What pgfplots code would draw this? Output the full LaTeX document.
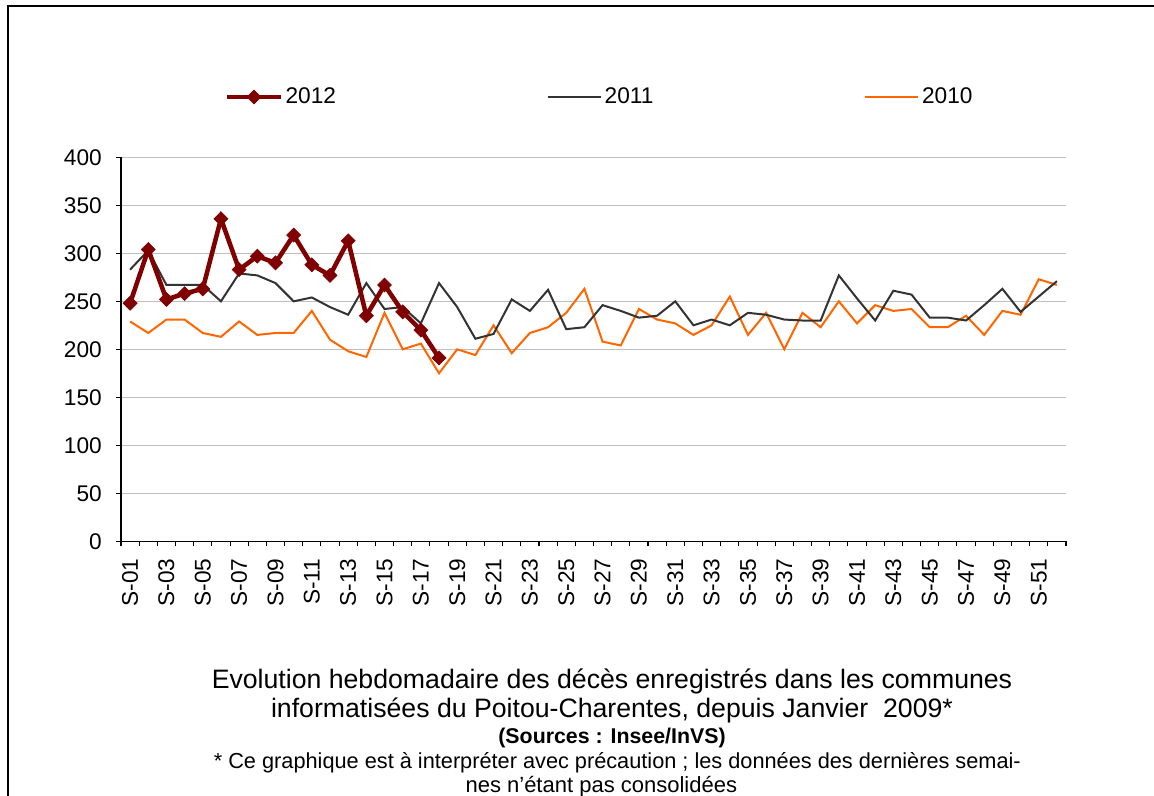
\documentclass[border=0pt]{standalone}
\usepackage{fontspec}
\setmainfont{Liberation Sans}
\usepackage{pgfplots}
\pgfplotsset{compat=1.18}
\usepackage{pgfplotstable}

\definecolor{c2012}{HTML}{800000}
\definecolor{c2011}{HTML}{333333}
\definecolor{c2010}{HTML}{FF6600}

\pgfplotstableread{
x y
1 248
2 304
3 252
4 258
5 263
6 336
7 283
8 297
9 290
10 319
11 288
12 277
13 313
14 235
15 267
16 239
17 220
18 191
}\dataA

\pgfplotstableread{
x y
1 283
2 303
3 267
4 267
5 267
6 250
7 279
8 277
9 269
10 250
11 254
12 244
13 236
14 269
15 242
16 244
17 227
18 269
19 244
20 211
21 216
22 252
23 240
24 262
25 221
26 223
27 246
28 240
29 233
30 235
31 250
32 225
33 231
34 225
35 238
36 236
37 231
38 230
39 230
40 277
41 253
42 230
43 261
44 257
45 233
46 233
47 230
48 246
49 263
50 239
51 255
52 271
}\dataB

\pgfplotstableread{
x y
1 229
2 217
3 231
4 231
5 217
6 213
7 229
8 215
9 217
10 217
11 240
12 210
13 198
14 192
15 238
16 200
17 206
18 175
19 200
20 194
21 225
22 196
23 217
24 223
25 238
26 263
27 208
28 204
29 242
30 231
31 227
32 215
33 225
34 255
35 215
36 238
37 200
38 238
39 223
40 250
41 227
42 246
43 240
44 242
45 223
46 223
47 235
48 215
49 240
50 236
51 273
52 267
}\dataC

\begin{document}
\begin{tikzpicture}
\useasboundingbox (0,0) rectangle (865.5pt,-597pt);
\draw[line width=1.5pt] (6pt,-600pt) -- (6pt,-4.3pt) -- (870pt,-4.3pt);
\begin{axis}[
  at={(90.75pt,-405.98pt)}, anchor=south west,
  scale only axis, width=708.75pt, height=288pt,
  xmin=0.5, xmax=52.5, ymin=0, ymax=400,
  axis x line*=bottom, axis y line*=left,
  axis line style={-, black, line width=0.8pt},
  ytick={0,50,...,400},
  ymajorgrids, grid style={draw=black!25, line width=0.8pt},
  xtick={1,3,...,51},
  xticklabels={S-01,S-03,S-05,S-07,S-09,S-11,S-13,S-15,S-17,S-19,S-21,S-23,S-25,S-27,S-29,S-31,S-33,S-35,S-37,S-39,S-41,S-43,S-45,S-47,S-49,S-51},
  minor xtick={0.5,1.5,...,52.5},
  major x tick style={draw=none},
  tick align=outside,
  major tick length=3.75pt, minor tick length=3.75pt,
  tick style={black, line width=0.8pt},
  /pgf/number format/assume math mode=true,
  tick label style={font=\fontsize{17}{19}\selectfont},
  xticklabel style={rotate=90, anchor=east, inner sep=0pt},
  xticklabel shift=9pt,
  yticklabel style={anchor=east, inner sep=0pt},
  yticklabel shift=10.5pt,
  clip=false,
  reverse legend,
  legend columns=3,
  legend style={at={(0.1056,1.157)}, anchor=west, draw=none, fill=none,
    font=\fontsize{17}{19}\selectfont,
    /tikz/every even column/.append style={column sep=156pt}},
  legend image code/.code={\draw[mark repeat=2,mark phase=2] plot coordinates {(0pt,0pt) (20pt,0pt) (40pt,0pt)};},
]
\addplot[c2010, line width=1.5pt, mark=none] table {\dataC};
\addlegendentry{2010}
\addplot[c2011, line width=1.5pt, mark=none] table {\dataB};
\addlegendentry{2011}
\addplot[c2012, line width=3.4pt, mark=square*, mark size=3.7pt, mark options={solid, rotate=45, line width=0.5pt, fill=c2012}] table {\dataA};
\addlegendentry{2012}
\end{axis}
\node[anchor=base, font=\fontsize{20}{22}\selectfont] at (459pt,-516pt) {Evolution hebdomadaire des décès enregistrés dans les communes};
\node[anchor=base, font=\fontsize{20}{22}\selectfont] at (459pt,-537.75pt) {informatisées du Poitou-Charentes, depuis Janvier\ \ 2009*};
\node[anchor=base, font=\fontsize{16}{18}\selectfont\bfseries] at (459pt,-557.25pt) {(Sources : Insee/InVS)};
\node[anchor=base, font=\fontsize{16.3}{18}\selectfont] at (463pt,-576pt) {* Ce graphique est à interpréter avec précaution ; les données des dernières semai-};
\node[anchor=base, font=\fontsize{16.5}{18}\selectfont] at (451pt,-594pt) {nes n’étant pas consolidées};
\end{tikzpicture}
\end{document}
